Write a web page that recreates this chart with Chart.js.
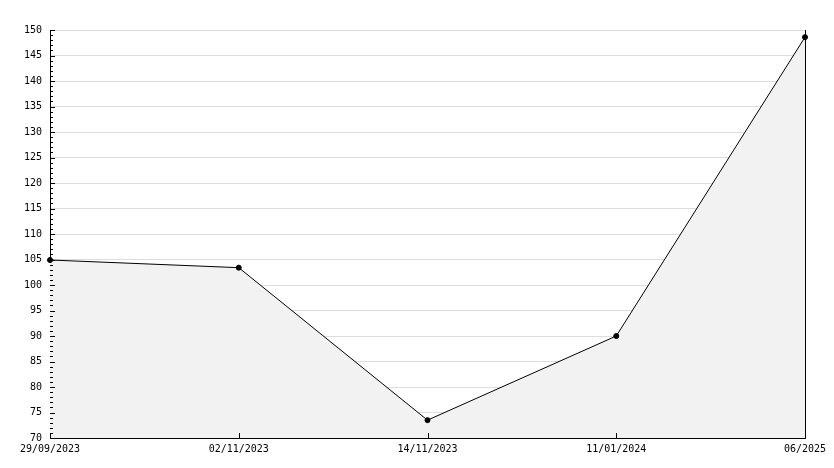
<!DOCTYPE html>
<html>
<head>
<meta charset="utf-8">
<script src="https://cdn.jsdelivr.net/npm/chart.js@4/dist/chart.umd.min.js"></script>
<style>
  html, body { margin: 0; padding: 0; background: #ffffff; }
  #wrap { width: 834px; height: 468px; }
</style>
</head>
<body>
<div id="wrap"><canvas id="chart"></canvas></div>
<script>
const categories = ["29/09/2023", "02/11/2023", "14/11/2023", "11/01/2024", "06/2025"];
const values = [104.9, 103.4, 73.5, 90.0, 148.6];
const yMin = 70;
const yMax = 150;
const yStep = 5;

Chart.defaults.font.family = "'DejaVu Sans Mono', monospace";
Chart.defaults.font.size = 10;
Chart.defaults.color = "#000000";

// petites graduations vers l'intérieur + bord droit
const tickPlugin = {
  id: "insideTicks",
  afterDraw(chart) {
    const { ctx, chartArea, scales } = chart;
    const x = scales.x;
    const y = scales.y;
    ctx.save();
    ctx.strokeStyle = "#000000";
    ctx.lineWidth = 1;
    ctx.beginPath();
    for (let v = yMin; v <= yMax; v++) {
      const py = Math.round(y.getPixelForValue(v)) + 0.5;
      const len = v % yStep === 0 ? 5 : 3;
      ctx.moveTo(chartArea.left, py);
      ctx.lineTo(chartArea.left + len, py);
    }
    categories.forEach((c, i) => {
      const px = Math.round(x.getPixelForValue(i)) + 0.5;
      ctx.moveTo(px, chartArea.bottom);
      ctx.lineTo(px, chartArea.bottom - 5);
    });
    const rx = Math.round(chartArea.right) + 0.5;
    ctx.moveTo(rx, chartArea.top);
    ctx.lineTo(rx, chartArea.bottom);
    ctx.stroke();
    ctx.restore();
  },
};

new Chart(document.getElementById("chart"), {
  type: "line",
  data: {
    labels: categories,
    datasets: [
      {
        data: values,
        borderColor: "#000000",
        borderWidth: 1,
        backgroundColor: "#f2f2f2",
        fill: "start",
        tension: 0,
        pointRadius: 2.5,
        pointBackgroundColor: "#000000",
        pointBorderColor: "#000000",
        pointBorderWidth: 1,
      },
    ],
  },
  options: {
    responsive: true,
    maintainAspectRatio: false,
    animation: false,
    layout: { padding: { top: 30, right: 29, bottom: 0, left: 0 } },
    scales: {
      x: {
        offset: false,
        grid: { display: false, drawTicks: false },
        border: { display: true, color: "#000000", width: 1 },
        ticks: { padding: 5, maxRotation: 0, autoSkip: false },
        afterFit: (s) => { s.height = 30; },
      },
      y: {
        min: yMin,
        max: yMax,
        grid: { color: "#dddddd", drawTicks: false },
        border: { display: true, color: "#000000", width: 1 },
        ticks: { stepSize: yStep, padding: 8 },
        afterFit: (s) => { s.width = 50; },
      },
    },
    plugins: {
      legend: { display: false },
      tooltip: { enabled: false },
    },
  },
  plugins: [tickPlugin],
});
</script>
</body>
</html>
